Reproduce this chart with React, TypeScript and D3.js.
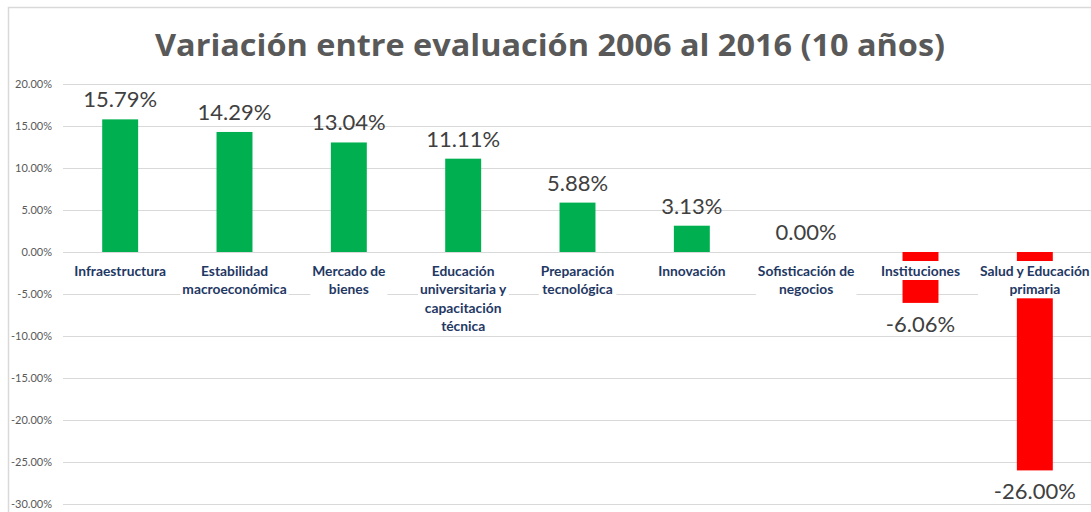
import React, { useEffect, useRef } from "react";
import * as d3 from "d3";

const categories: string[] = [
  "Infraestructura",
  "Estabilidad\nmacroeconómica",
  "Mercado de\nbienes",
  "Educación\nuniversitaria y\ncapacitación\ntécnica",
  "Preparación\ntecnológica",
  "Innovación",
  "Sofisticación de\nnegocios",
  "Instituciones",
  "Salud y Educación\nprimaria",
];
const values: number[] = [15.79, 14.29, 13.04, 11.11, 5.88, 3.13, 0.0, -6.06, -26.0];
const yTicks: number[] = [20, 15, 10, 5, 0, -5, -10, -15, -20, -25, -30];
const title = "Variación entre evaluación 2006 al 2016 (10 años)";

const W = 1091;
const H = 512;

const pct = (v: number) => d3.format(".2f")(v).replace("\u2212", "-") + "%";

export default function App() {
  const ref = useRef<SVGSVGElement>(null);

  useEffect(() => {
    const svg = d3.select(ref.current);
    svg.selectAll("*").remove();

    const x = d3
      .scaleBand<string>()
      .domain(categories)
      .range([63, 1092])
      .paddingInner(0.6856)
      .paddingOuter(0.3428);
    const y = d3.scaleLinear().domain([-30, 20]).range([504, 84]);

    // frame
    svg.append("rect").attr("x", 8.5).attr("y", 7.5).attr("width", W).attr("height", H)
      .attr("fill", "white").attr("stroke", "#d9d9d9").attr("stroke-width", 1.5);

    // title
    svg.append("text").attr("x", 550).attr("y", 56).attr("text-anchor", "middle")
      .attr("font-family", "Open Sans").attr("font-weight", 700).attr("font-size", 30)
      .attr("textLength", 790).attr("lengthAdjust", "spacingAndGlyphs")
      .attr("fill", "#595959").text(title);

    // grid + ticks
    const g = svg.append("g");
    yTicks.forEach((t) => {
      g.append("line").attr("x1", 63).attr("x2", W).attr("y1", y(t) + 0.5).attr("y2", y(t) + 0.5)
        .attr("stroke", "#d9d9d9").attr("stroke-width", 1);
      g.append("text").attr("x", 52).attr("y", y(t) + 4).attr("text-anchor", "end")
        .attr("font-family", "Lato").attr("font-size", 11).attr("fill", "#595959")
        .text(pct(t));
    });

    // bars
    svg.append("g").selectAll("rect").data(values).join("rect")
      .attr("x", (_, i) => x(categories[i])!)
      .attr("width", x.bandwidth())
      .attr("y", (d) => Math.min(y(d), y(0)))
      .attr("height", (d) => Math.abs(y(d) - y(0)))
      .attr("fill", (d) => (d < 0 ? "#FF0000" : "#00B050"));

    // category labels with white background
    categories.forEach((c, i) => {
      const cx = x(c)! + x.bandwidth() / 2;
      const lg = svg.append("g");
      const bg = lg.append("rect").attr("fill", "white");
      const t = lg.append("text").attr("text-anchor", "middle")
        .attr("font-family", "Lato").attr("font-weight", 700).attr("font-size", 13.8)
        .attr("fill", "#1F3864");
      c.split("\n").forEach((line, k) => {
        t.append("tspan").attr("x", cx).attr("y", 276 + k * 18.3).text(line);
      });
      const bb = (t.node() as SVGTextElement).getBBox();
      bg.attr("x", bb.x - 2).attr("y", bb.y - 1).attr("width", bb.width + 4).attr("height", bb.height + 2);
    });

    // value labels
    svg.append("g").selectAll("text").data(values).join("text")
      .attr("x", (_, i) => x(categories[i])! + x.bandwidth() / 2)
      .attr("y", (d) => (d < 0 ? y(d) + 29 : y(d) - 12))
      .attr("text-anchor", "middle")
      .attr("font-family", "Lato").attr("font-size", 22).attr("fill", "#404040")
      .text((d) => pct(d));
  }, []);

  return (
    <div style={{ position: "absolute", left: 0, top: 0 }}>
      <svg ref={ref} width={W} height={H} style={{ display: "block" }} />
    </div>
  );
}
